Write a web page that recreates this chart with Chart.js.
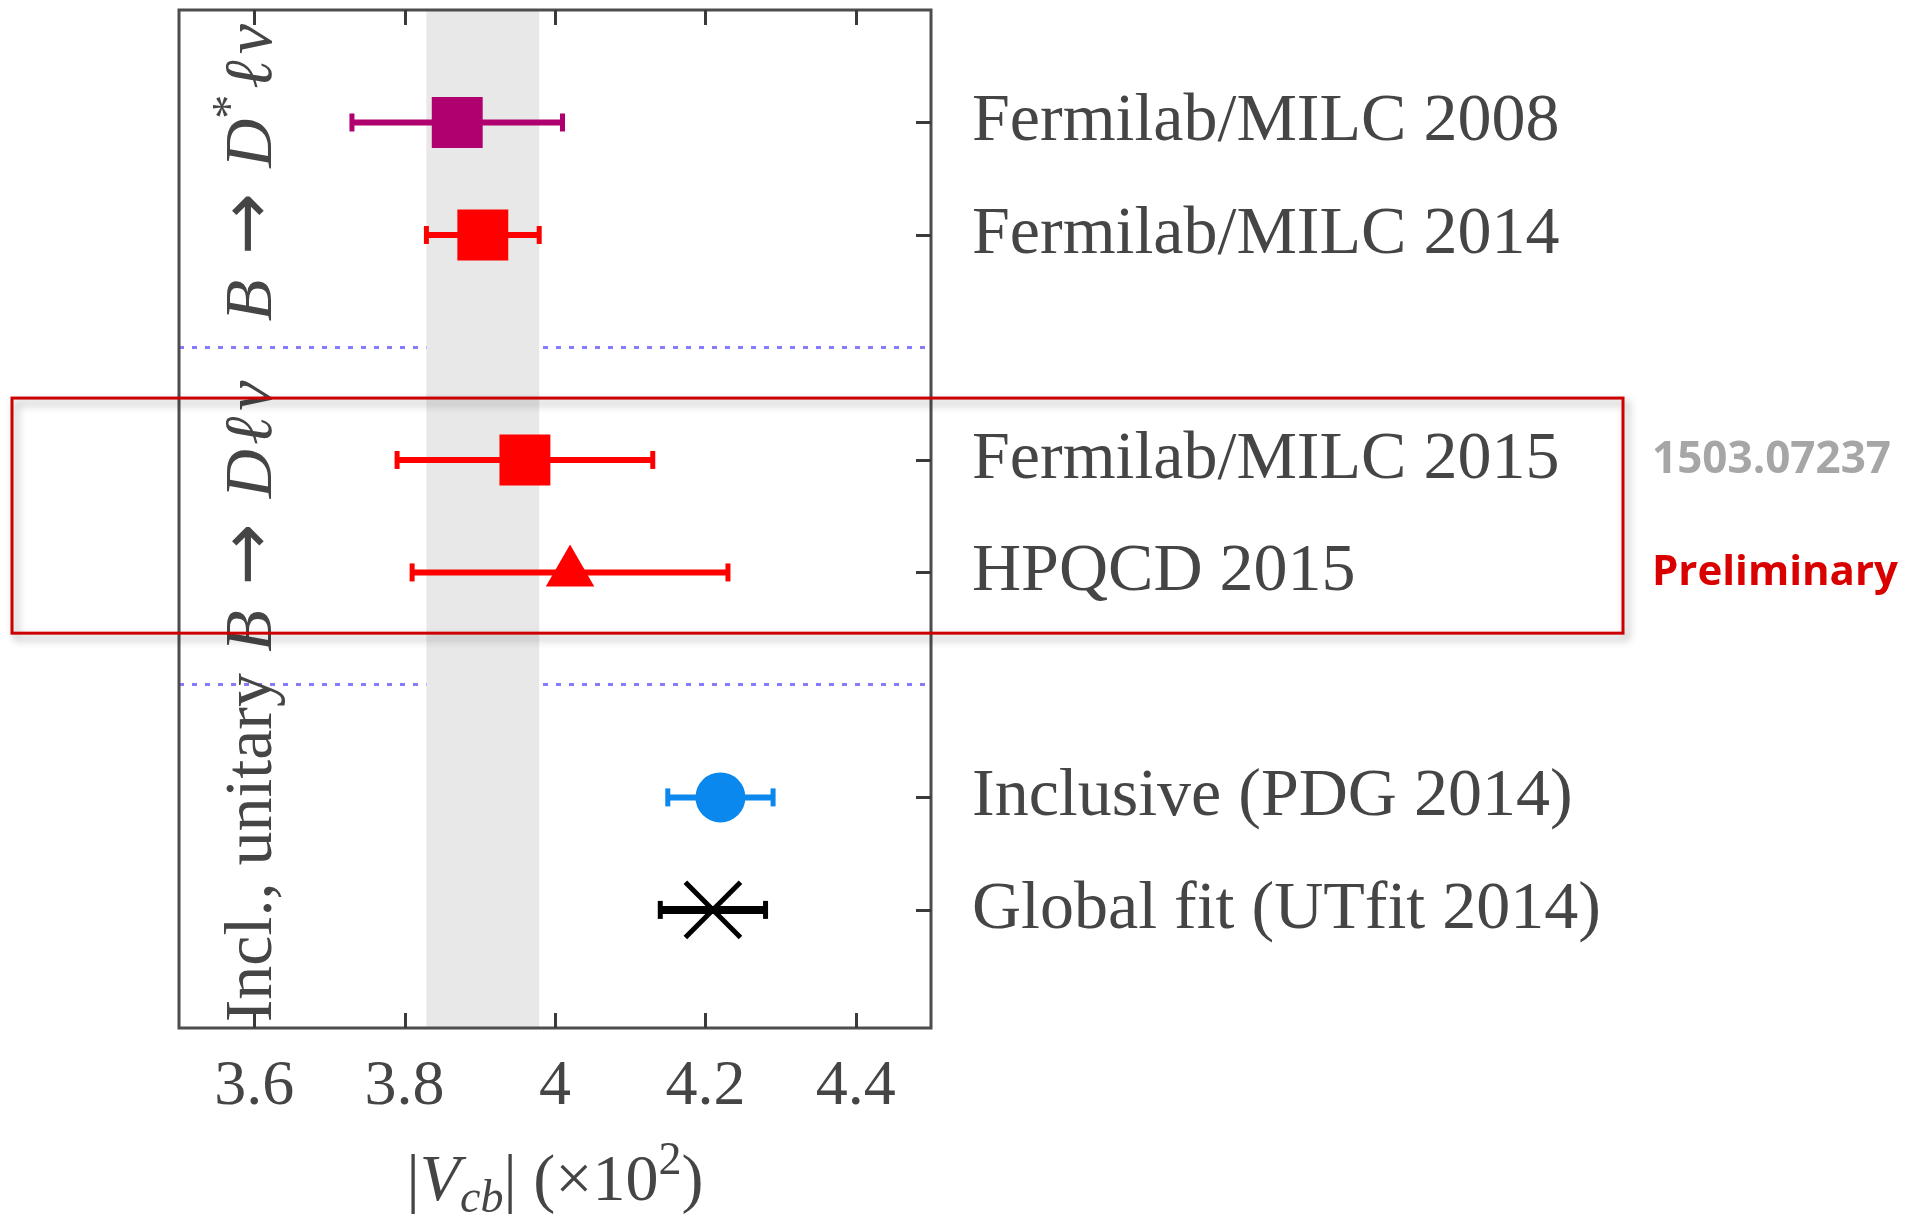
<!DOCTYPE html>
<html>
<head>
<meta charset="utf-8">
<title>|Vcb| comparison</title>
<script src="https://cdn.jsdelivr.net/npm/chart.js@4.4.0/dist/chart.umd.min.js"></script>
<style>
  html, body { margin: 0; padding: 0; background: #ffffff; }
  #chart_box { position: relative; width: 1916px; height: 1216px; }
</style>
</head>
<body>
<div id="chart_box"><canvas id="vcbChart"></canvas></div>
<script>
// results, listed top to bottom
const studies = ['Fermilab/MILC 2008', 'Fermilab/MILC 2014', 'Fermilab/MILC 2015', 'HPQCD 2015', 'Inclusive (PDG 2014)', 'Global fit (UTfit 2014)'];
const vcbValues = [3.87, 3.904, 3.96, 4.02, 4.22, 4.21];
const vcbErrors = [0.14, 0.075, 0.17, 0.21, 0.07, 0.07];
const rowPositions = [8, 7, 5, 4, 2, 1];
const separatorRows = [6, 3];
const groupRows = [[8, 7], [5, 4], [2, 1]];
const xTicks = [3.6, 3.8, 4, 4.2, 4.4];
const bandRange = [3.829, 3.979];
const notes = ['1503.07237', 'Preliminary'];

// styles
const markerColors = ['#b0006f', '#ff0000', '#ff0000', '#ff0000', '#0a88ee', '#000000'];
const markerShapes = ['rect', 'rect', 'rect', 'triangle', 'circle', 'crossRot'];
const markerSizes = [36, 36, 36, 28, 25, 39];
const barWidths = [6, 6, 6, 6, 6, 8];

const SERIF = '"Liberation Serif", "DejaVu Serif", serif';
const TEXT_COLOR = '#454545';

function rm(size) { return size + 'px ' + SERIF; }
function it(size) { return 'italic ' + size + 'px ' + SERIF; }
function arrow(size) { return size + 'px "DejaVu Sans", sans-serif'; }

// group labels on the left, as runs of text (math italic etc.)
const groupLabelRuns = [
  [{t: 'B', f: it(68)}, {t: ' ', f: rm(100)}, {t: '→', f: arrow(74)}, {t: ' ', f: rm(100)}, {t: 'D', f: it(68)},
   {t: '*', f: rm(48), dy: -26, gap: 6}, {t: 'ℓ', f: it(68), gap: 6}, {t: 'ν', f: it(68)}],
  [{t: 'B', f: it(68)}, {t: ' ', f: rm(100)}, {t: '→', f: arrow(74)}, {t: ' ', f: rm(100)}, {t: 'D', f: it(68), gap: 4},
   {t: 'ℓ', f: it(68), gap: 6}, {t: 'ν', f: it(68)}],
  [{t: 'Incl., unitary', f: rm(68)}]
];

const axisTitleRuns = [
  {t: '|', f: rm(66)}, {t: 'V', f: it(66)}, {t: 'cb', f: it(46), dy: 12}, {t: '|', f: rm(66)},
  {t: ' (×10', f: rm(66)}, {t: '2', f: rm(46), dy: -26}, {t: ')', f: rm(66)}
];

function draw_runs(ctx, runs, x, y)
{
  let total = 0;
  runs.forEach(r => { ctx.font = r.f; r.w = ctx.measureText(r.t).width + (r.gap || 0); total += r.w; });
  let cx = x - total / 2;
  runs.forEach(r => {
    ctx.font = r.f;
    ctx.fillText(r.t, cx, y + (r.dy || 0));
    cx += r.w;
  });
}

const decorPlugin = {
  id: 'vcbDecor',
  beforeDatasetsDraw(chart) {
    // average band
    const {ctx, chartArea, scales} = chart;
    const x1 = scales.x.getPixelForValue(bandRange[0]);
    const x2 = scales.x.getPixelForValue(bandRange[1]);
    ctx.save();
    ctx.fillStyle = '#e8e8e8';
    ctx.fillRect(x1, chartArea.top, x2 - x1, chartArea.bottom - chartArea.top);
    ctx.restore();
  },
  afterDatasetsDraw(chart) {
    const {ctx, chartArea, scales} = chart;
    const a = chartArea;
    ctx.save();
    // frame
    ctx.strokeStyle = '#4d4d4d';
    ctx.lineWidth = 3;
    ctx.strokeRect(a.left, a.top, a.right - a.left, a.bottom - a.top);
    // inward ticks
    ctx.strokeStyle = '#3a3a3a';
    ctx.beginPath();
    xTicks.forEach(v => {
      const px = Math.round(scales.x.getPixelForValue(v)) + 0.5;
      ctx.moveTo(px, a.bottom); ctx.lineTo(px, a.bottom - 15);
      ctx.moveTo(px, a.top); ctx.lineTo(px, a.top + 15);
    });
    rowPositions.forEach(v => {
      const py = Math.round(scales.y.getPixelForValue(v)) + 0.5;
      ctx.moveTo(a.right, py); ctx.lineTo(a.right - 15, py);
    });
    ctx.stroke();

    // rotated group labels
    ctx.fillStyle = TEXT_COLOR;
    ctx.textBaseline = 'alphabetic';
    ctx.textAlign = 'left';
    groupRows.forEach((rows, i) => {
      const mid = (rows[0] + rows[1]) / 2;
      ctx.save();
      ctx.translate(a.left + 92, scales.y.getPixelForValue(mid) - (i === 1 ? 0 : 6));
      ctx.rotate(-Math.PI / 2);
      draw_runs(ctx, groupLabelRuns[i], 0, 0);
      ctx.restore();
    });
    ctx.restore();
  },
  afterDraw(chart) {
    const {ctx, chartArea, scales} = chart;
    const a = chartArea;
    ctx.save();
    ctx.fillStyle = TEXT_COLOR;
    ctx.textBaseline = 'alphabetic';
    ctx.textAlign = 'left';
    draw_runs(ctx, axisTitleRuns, (a.left + a.right) / 2, 1200);

    // highlight box around the B -> D l nu results
    const boxTop = scales.y.getPixelForValue(5.55);
    const boxBottom = scales.y.getPixelForValue(3.46);
    ctx.shadowColor = 'rgba(0,0,0,0.35)';
    ctx.shadowBlur = 9;
    ctx.shadowOffsetX = 4;
    ctx.shadowOffsetY = 5;
    ctx.strokeStyle = '#cc0000';
    ctx.lineWidth = 3;
    ctx.strokeRect(12, boxTop, 1611, boxBottom - boxTop);
    ctx.shadowColor = 'rgba(0,0,0,0)';

    ctx.font = 'bold 44px "Open Sans", sans-serif';
    ctx.fillStyle = '#a6a6a6';
    ctx.fillText(notes[0], 1652, scales.y.getPixelForValue(rowPositions[2]) + 13);
    ctx.font = 'bold 42px "Open Sans", sans-serif';
    ctx.fillStyle = '#d90000';
    ctx.fillText(notes[1], 1652, scales.y.getPixelForValue(rowPositions[3]) + 13);
    ctx.restore();
  }
};

let datasets = [];
for (let i = 0; i < studies.length; i++) {
  const y = rowPositions[i];
  // error bar with end caps
  datasets.push({
    label: studies[i] + ' error',
    data: [{x: vcbValues[i] - vcbErrors[i], y: y}, {x: vcbValues[i] + vcbErrors[i], y: y}],
    showLine: true,
    borderColor: markerColors[i],
    borderWidth: barWidths[i],
    pointStyle: 'line',
    pointRotation: 90,
    pointRadius: 9,
    pointBorderWidth: 5,
    pointBorderColor: markerColors[i],
    order: 2
  });
  // central value
  datasets.push({
    label: studies[i],
    data: [{x: vcbValues[i], y: y}],
    pointStyle: markerShapes[i],
    pointRadius: markerSizes[i],
    backgroundColor: markerColors[i],
    borderColor: markerColors[i],
    pointBorderWidth: markerShapes[i] === 'crossRot' ? 5 : 0,
    order: 1
  });
}

new Chart(document.getElementById('vcbChart'), {
  type: 'scatter',
  data: { datasets: datasets },
  plugins: [decorPlugin],
  options: {
    responsive: true,
    maintainAspectRatio: false,
    animation: false,
    events: [],
    layout: { autoPadding: false, padding: { left: 179, top: 10, right: 0, bottom: 0 } },
    plugins: {
      legend: { display: false },
      tooltip: { enabled: false }
    },
    scales: {
      x: {
        type: 'linear',
        position: 'bottom',
        min: 3.5,
        max: 4.5,
        afterBuildTicks: (scale) => { scale.ticks = xTicks.map(v => ({value: v})); },
        afterFit: (scale) => {
          scale.height = 188;
          scale.paddingLeft = 0;
          scale.paddingRight = 0;
        },
        grid: { display: false, drawTicks: false },
        border: { display: false },
        ticks: {
          padding: 21,
          color: TEXT_COLOR,
          font: { family: SERIF, size: 64 },
          maxRotation: 0,
          autoSkip: false,
          callback: (v) => String(v)
        }
      },
      y: {
        type: 'linear',
        position: 'right',
        min: -0.05,
        max: 9,
        afterBuildTicks: (scale) => { scale.ticks = [1, 2, 3, 4, 5, 6, 7, 8].map(v => ({value: v})); },
        afterFit: (scale) => {
          scale.width = 985;
          scale.paddingTop = 0;
          scale.paddingBottom = 0;
        },
        grid: {
          drawTicks: false,
          lineWidth: 3,
          color: (c) => (c.tick && separatorRows.includes(c.tick.value)) ? 'rgba(110,100,255,0.85)' : 'rgba(0,0,0,0)'
        },
        border: { display: false, dash: [5, 8] },
        ticks: {
          padding: 41,
          color: TEXT_COLOR,
          autoSkip: false,
          font: { family: SERIF, size: 68 },
          callback: (value) => {
            const k = rowPositions.indexOf(value);
            return k >= 0 ? studies[k] : '';
          }
        }
      }
    }
  }
});
</script>
</body>
</html>
